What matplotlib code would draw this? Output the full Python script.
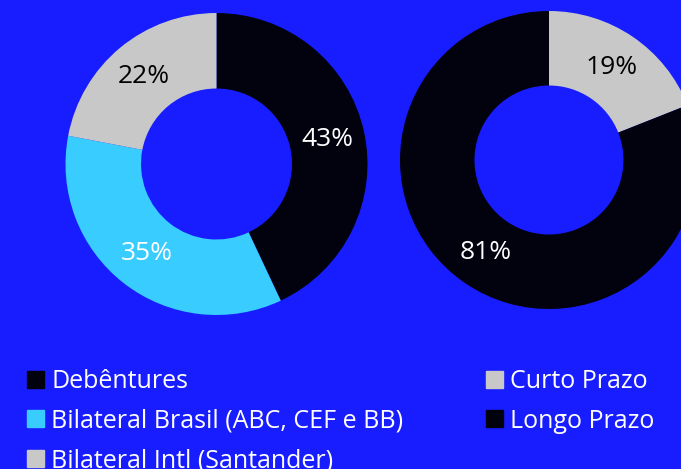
import matplotlib
matplotlib.use('Agg')
import matplotlib.pyplot as plt
from matplotlib.patches import Patch

plt.rcParams['font.family'] = ['Open Sans', 'DejaVu Sans']

# Composição da dívida
tipos = ['Debêntures', 'Bilateral Brasil (ABC, CEF e BB)', 'Bilateral Intl (Santander)']
tipos_pct = [43, 35, 22]
tipos_cores = ['#01020e', '#38ccff', '#c8c8c8']
tipos_txt = ['white', 'white', 'black']

# Prazo
prazos = ['Curto Prazo', 'Longo Prazo']
prazos_pct = [19, 81]
prazos_cores = ['#c8c8c8', '#01020e']
prazos_txt = ['black', 'white']

fundo = '#181dff'
W, H = 681, 469

fig = plt.figure(figsize=(W / 100, H / 100), dpi=100, facecolor=fundo)
ax = fig.add_axes([0, 0, 1, 1])
ax.set_facecolor(fundo)


def rosca(valores, cores, cores_txt, centro, raio):
    _, _, autos = ax.pie(valores, colors=cores, startangle=90, counterclock=False,
                         radius=raio, center=centro,
                         wedgeprops=dict(width=raio * 0.5, linewidth=0),
                         autopct=lambda p: f'{p:.0f}%', pctdistance=0.75,
                         textprops=dict(fontsize=19))
    for t, c in zip(autos, cores_txt):
        t.set_color(c)


rosca(tipos_pct, tipos_cores, tipos_txt, (216.5, H - 164), 151)
rosca(prazos_pct, prazos_cores, prazos_txt, (549, H - 160), 149)

ax.set_xlim(0, W)
ax.set_ylim(0, H)
ax.set_aspect('equal')
ax.axis('off')

opts = dict(loc='upper left', frameon=False, borderpad=0, borderaxespad=0,
            labelcolor='white', fontsize=18, handlelength=0.68, handleheight=0.68,
            handletextpad=0.28, labelspacing=0.58, bbox_transform=ax.transData)

fig.legend([Patch(color=c) for c in tipos_cores], tipos,
           bbox_to_anchor=(27, H - 369), **opts)
fig.legend([Patch(color=c) for c in prazos_cores], prazos,
           bbox_to_anchor=(486, H - 369), **opts)

fig.savefig('out.png', dpi=100, facecolor=fundo)
